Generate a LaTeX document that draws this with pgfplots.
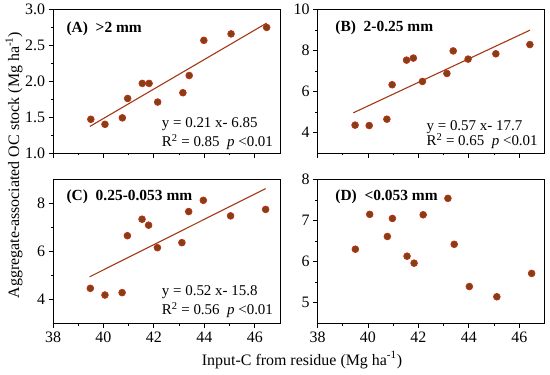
\documentclass[border=0pt]{standalone}
\usepackage{pgfplots}
\pgfplotsset{compat=1.18}
\usepackage{fontspec}
\setmainfont{Liberation Serif}
\definecolor{dotfill}{RGB}{125,68,18}
\definecolor{dotedge}{RGB}{205,40,30}
\definecolor{fitline}{RGB}{165,55,20}
\tikzset{
  ann/.style={anchor=base west, inner sep=0pt, font=\fontsize{15}{15}\selectfont},
  ttl/.style={anchor=base west, inner sep=0pt, font=\bfseries\fontsize{15.5}{15.5}\selectfont},
}
\pgfplotsset{
  panel/.style={
    scale only axis, width=227bp, height=143.5bp,
    xmin=38, xmax=47, xtick={38,40,...,46}, minor x tick num=1,
    tick align=outside, xtick pos=bottom, ytick pos=left,
    major tick length=4.5bp, minor tick length=2.5bp,
    axis line style={line width=0.9bp},
    every tick/.style={line width=0.8bp, black},
    tick label style={font=\fontsize{16}{16}\selectfont},
    /pgf/number format/assume math mode=true,
    xticklabel style={yshift=-1bp},
  },
  dots/.style={only marks, mark=*, mark size=3.4bp,
    mark options={fill=dotfill, draw=dotedge, line width=0.7bp}},
  fit/.style={fitline, line width=1.1bp},
}
\begin{document}
\begin{tikzpicture}[x=1bp,y=1bp]
\useasboundingbox (0,0) rectangle (550,374);

% (A)
\begin{axis}[panel, at={(53bp,221bp)}, anchor=south west,
  ymin=1, ymax=3, ytick={1,1.5,...,3.0}, minor y tick num=1,
  xticklabels={},
  yticklabel style={/pgf/number format/.cd, fixed, fixed zerofill, precision=1}]
\addplot[fit] coordinates {(39.46,1.37) (46.47,2.81)};
\addplot[dots] coordinates {
(39.50,1.47) (40.06,1.40) (40.75,1.49) (40.96,1.76) (41.54,1.97) (41.81,1.97)
(42.15,1.71) (43.15,1.84) (43.40,2.08) (43.98,2.57) (45.06,2.66) (46.47,2.75)};
\node[ttl] at (rel axis cs:0.059,0.84) {(A)\ \ >2 mm};
\node[ann] at (rel axis cs:0.479,0.176) {y = 0.21 x- 6.85};
\node[ann] at (rel axis cs:0.479,0.046) {R\textsuperscript{2} = 0.85\ \ \textit{p} <0.01};
\end{axis}

% (B)
\begin{axis}[panel, at={(317.5bp,221bp)}, anchor=south west,
  ymin=3, ymax=10, ytick={4,6,8,10}, minor y tick num=1,
  xticklabels={}]
\addplot[fit] coordinates {(39.42,4.96) (46.42,8.99)};
\addplot[dots] coordinates {
(39.49,4.36) (40.05,4.34) (40.75,4.65) (40.96,6.33) (41.53,7.53) (41.80,7.63)
(42.16,6.49) (43.13,6.88) (43.38,7.98) (43.97,7.58) (45.07,7.84) (46.42,8.29)};
\node[ttl] at (rel axis cs:0.078,0.844) {(B)\ \ 2-0.25 mm};
\node[ann] at (rel axis cs:0.48,0.16) {y = 0.57 x- 17.7};
\node[ann] at (rel axis cs:0.48,0.049) {R\textsuperscript{2} = 0.65\ \ \textit{p} <0.01};
\end{axis}

% (C)
\begin{axis}[panel, at={(53bp,51bp)}, anchor=south west,
  ymin=3, ymax=9, ytick={4,6,8}, minor y tick num=1]
\addplot[fit] coordinates {(39.45,4.93) (46.43,8.62)};
\addplot[dots] coordinates {
(39.48,4.45) (40.06,4.17) (40.74,4.27) (40.95,6.65) (41.53,7.34) (41.79,7.09)
(42.14,6.15) (43.11,6.36) (43.38,7.66) (43.96,8.13) (45.04,7.48) (46.43,7.75)};
\node[ttl] at (rel axis cs:0.059,0.855) {(C)\ \ 0.25-0.053 mm};
\node[ann] at (rel axis cs:0.479,0.19) {y = 0.52 x- 15.8};
\node[ann] at (rel axis cs:0.479,0.058) {R\textsuperscript{2} = 0.56\ \ \textit{p} <0.01};
\end{axis}

% (D)
\begin{axis}[panel, at={(317.5bp,51bp)}, anchor=south west,
  ymin=4.5, ymax=8, ytick={5,6,7,8}, minor y tick num=1]
\addplot[dots] coordinates {
(39.50,6.30) (40.07,7.15) (40.77,6.61) (40.97,7.05) (41.55,6.13) (41.83,5.96)
(42.19,7.14) (43.17,7.54) (43.42,6.42) (44.02,5.39) (45.11,5.14) (46.49,5.71)};
\node[ttl] at (rel axis cs:0.078,0.855) {(D)\ \ <0.053 mm};
\end{axis}

\node[anchor=base, font=\fontsize{16}{16}\selectfont] at (302,9) {Input-C from residue (Mg ha\textsuperscript{-1})};
\node[anchor=base, rotate=90, font=\fontsize{16}{16}\selectfont] at (19,209) {Aggregate-associated OC stock (Mg ha\textsuperscript{-1})};
\end{tikzpicture}
\end{document}
